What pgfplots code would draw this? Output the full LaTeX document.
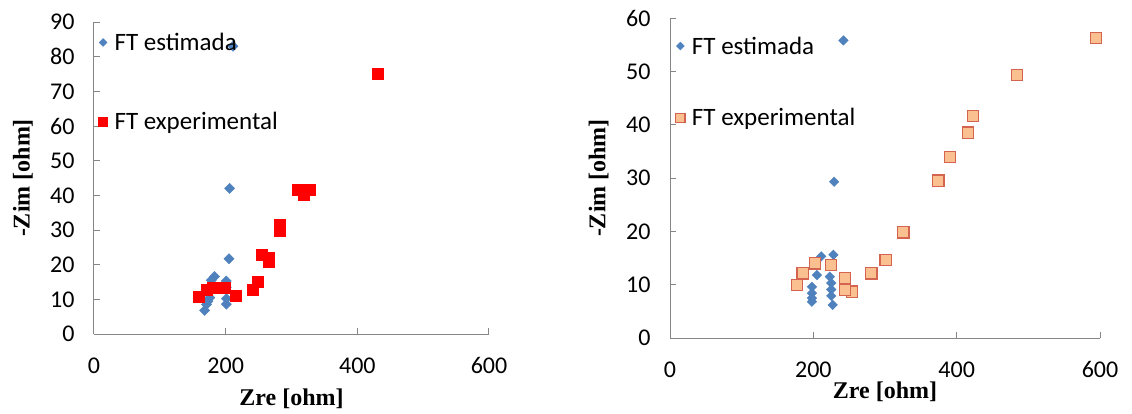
\documentclass[border=0pt]{standalone}
\usepackage{fontspec}
\setmainfont{Carlito}
\newfontfamily\lserif{Liberation Serif}
\usepackage{pgfplots}
\pgfplotsset{compat=1.18}
\definecolor{axgray}{RGB}{134,134,134}
\definecolor{ftblue}{RGB}{79,129,189}
\definecolor{ftorange}{RGB}{250,192,144}
\definecolor{ftorangedraw}{RGB}{212,100,80}
\pgfplotsset{myaxis/.style={
  scale only axis, xmin=0, xmax=600, ymin=0, xtick={0,200,400,600},
  axis lines=left, axis line style={-, draw=axgray, line width=1pt},
  tick align=inside, major tick length=6pt, tick style={axgray, line width=1pt},
  ticklabel style={font=\fontsize{24}{24}\selectfont},
  /pgf/number format/assume math mode=true,
  xticklabel style={yshift=-20pt}, yticklabel style={xshift=-16pt},
  label style={font=\lserif\bfseries\fontsize{24}{24}\selectfont},
  legend cell align=left,
  legend style={draw=none, fill=none, inner sep=0pt, column sep=5pt, font=\fontsize{25}{25}\selectfont, anchor=west},
  legend image code/.code={\draw[#1] plot coordinates {(0pt,0pt)};},
  clip=false,
}}
\begin{document}
\begin{tikzpicture}
\useasboundingbox (-94pt,-79pt) rectangle (1038pt,334pt);
\begin{axis}[myaxis, width=395pt, height=312pt, ymax=90, ytick={0,10,...,90},
  xlabel={Zre [ohm]}, ylabel={-Zim [ohm]},
  xlabel style={at={(axis description cs:0.5,0)}, anchor=base, yshift=-71pt},
  ylabel style={at={(axis description cs:-0.18,0.5)}, anchor=center},
  legend style={at={(axis description cs:0.011,0.808)}, row sep=56pt}]
\addplot[only marks, mark=square*, mark size=3.6pt, color=ftblue, mark options={rotate=45}, legend image post style={mark size=2.8pt}]
coordinates {(211,83) (206,42) (205,21.7) (183,16.6) (178,15.5) (201,15.3) (201,13.5) (172,12.5) (176,10.5) (201,10.2) (201,8.6) (171,8.5) (168,6.8) (173,9.4)};
\addlegendentry{FT estimada}
\addplot[only marks, mark=square*, mark size=5.5pt, color=red, legend image post style={mark size=4.5pt}]
coordinates {(431,75) (310,41.5) (328,41.5) (319,40.3) (282,31.6) (282,29.9) (254,22.9) (266,22) (266,20.8) (248,15.2) (241,12.8) (159,10.9) (171,12.8) (181,13.3) (198,13.3) (216,11.1)};
\addlegendentry{FT experimental}
\end{axis}
\begin{axis}[myaxis, at={(576pt,-4pt)}, width=430pt, height=320pt, ymax=60, ytick={0,10,...,60},
  xlabel={Zre [ohm]}, ylabel={-Zim [ohm]},
  xlabel style={at={(axis description cs:0.5,0)}, anchor=base, yshift=-60pt},
  ylabel style={at={(axis description cs:-0.166,0.5)}, anchor=center},
  legend style={at={(axis description cs:0.013,0.80)}, row sep=49pt}]
\addplot[only marks, mark=square*, mark size=3.4pt, color=ftblue, mark options={rotate=45}, legend image post style={mark size=2.8pt}]
coordinates {(242,55.8) (229,29.3) (211,15.3) (228,15.6) (205,11.8) (198,9.6) (198,8.4) (198,7.5) (198,6.8) (223,11.5) (225,10.3) (225,9.1) (225,7.9) (227,6.2)};
\addlegendentry{FT estimada}
\addplot[only marks, mark=square*, mark size=5.6pt, draw=ftorangedraw, fill=ftorange, line width=1.2pt, legend image post style={mark size=4.6pt}]
coordinates {(594,56.3) (484,49.3) (423,41.6) (416,38.5) (391,33.9) (374.5,29.5) (325.6,19.8) (300.7,14.6) (281,12.1) (253.6,8.7) (244,9) (244,11.2) (224.7,13.7) (202,14) (185,12.1) (177,9.9)};
\addlegendentry{FT experimental}
\end{axis}
\end{tikzpicture}
\end{document}
